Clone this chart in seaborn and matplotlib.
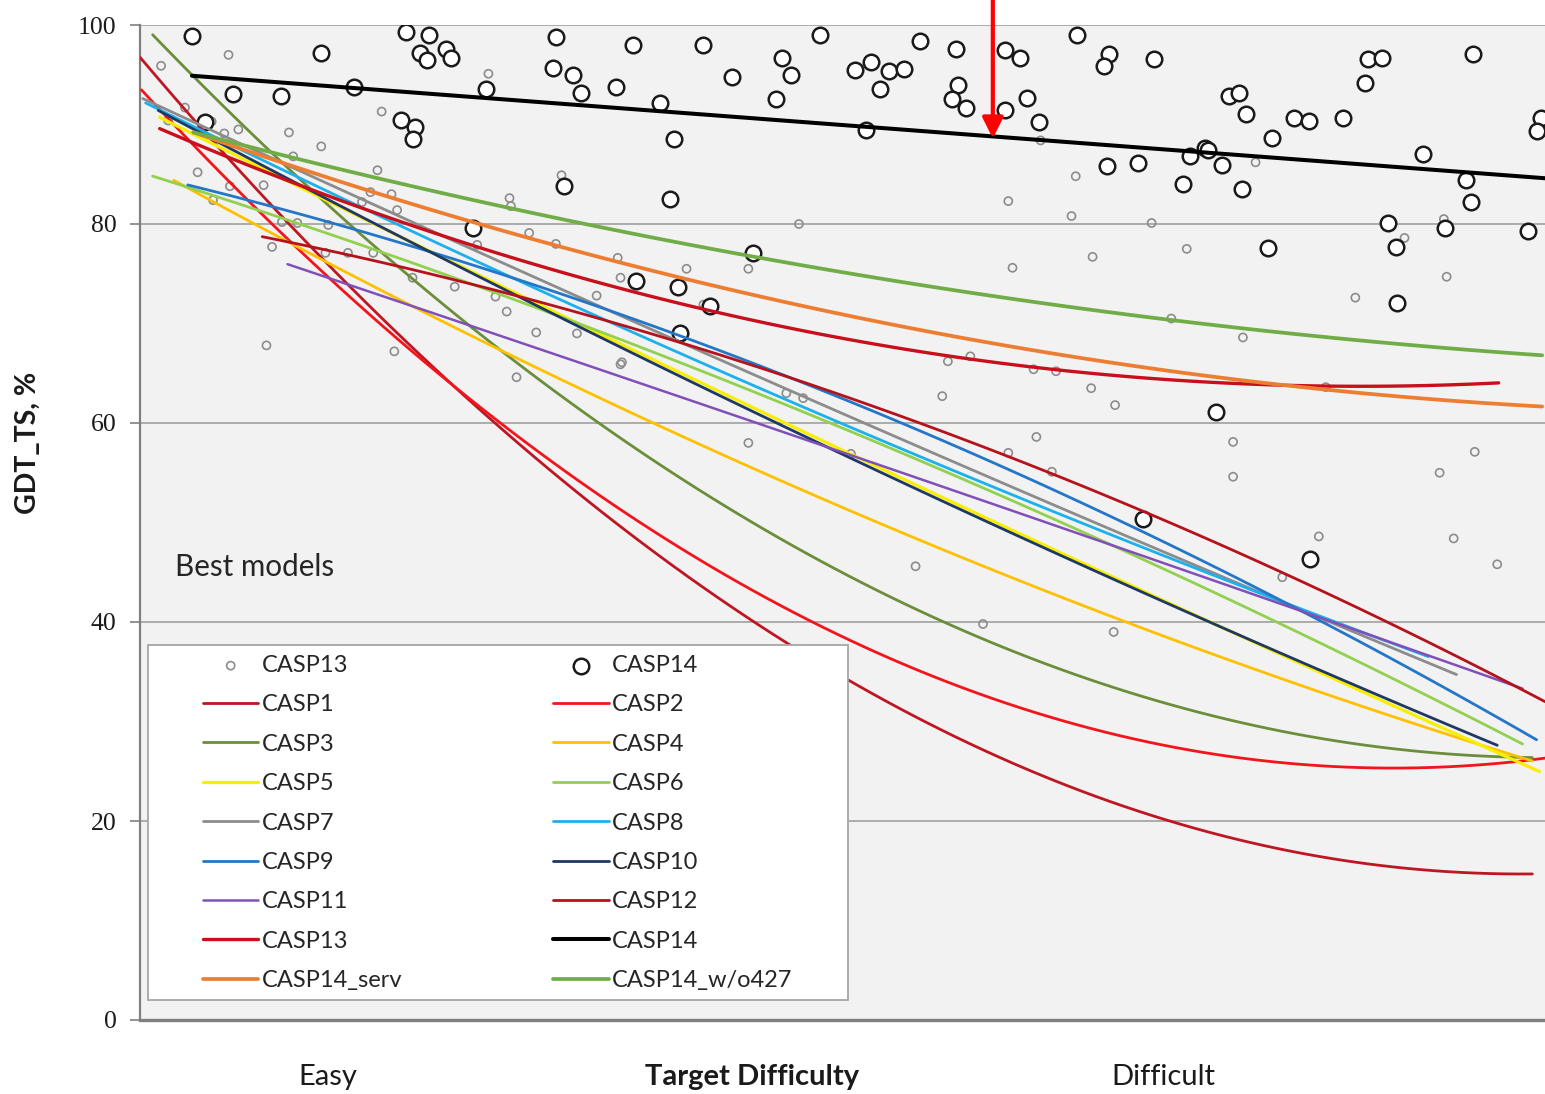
import matplotlib
matplotlib.use('Agg')
import matplotlib.pyplot as plt
import seaborn as sns
from matplotlib.patches import Rectangle

# x = target difficulty rank (0 = easiest, 100 = hardest), y = GDT_TS %
X_LABELS = ['Easy', 'Target Difficulty', 'Difficult']
Y_TICKS = [0, 20, 40, 60, 80, 100]

# best models, CASP14 (big open circles)
casp14_pts_x = [3.7, 6.6, 4.6, 10.0, 12.9, 15.2, 18.9, 20.6, 19.9, 20.4, 21.8, 22.1, 18.6, 19.6,
                19.4, 24.6, 23.7, 29.6, 29.4, 30.2, 30.8, 31.4, 33.9, 35.1, 37.0, 38.0, 37.7, 35.3,
                38.3, 38.4, 40.1, 40.6, 42.1, 43.6, 45.7, 46.3, 45.3, 48.4, 50.9, 52.0, 51.7, 52.7,
                53.3, 54.4, 55.5, 58.1, 58.2, 57.8, 58.8, 61.6, 62.6, 61.6, 63.1, 64.0, 66.7, 69.0,
                68.6, 72.2, 68.8, 71.0, 74.2, 74.7, 75.8, 76.0, 77.0, 78.4, 77.5, 78.2, 78.7, 80.6,
                82.1, 83.2, 85.6, 87.4, 88.4, 87.2, 91.3, 94.4, 94.7, 94.9, 88.8, 92.9, 89.4, 80.3,
                98.8, 99.7, 99.4, 89.5, 76.6, 71.4, 83.3]
casp14_pts_y = [98.9, 93.1, 90.3, 92.9, 97.2, 93.8, 99.3, 99.0, 97.2, 96.5, 97.6, 96.7, 90.5, 89.7,
                88.5, 93.6, 79.6, 98.8, 95.7, 83.8, 95.0, 93.2, 93.8, 98.0, 92.2, 88.5, 82.5, 74.3,
                73.7, 69.0, 98.0, 71.8, 94.8, 77.1, 96.7, 95.0, 92.6, 99.0, 95.5, 96.3, 89.4, 93.6,
                95.4, 95.6, 98.4, 97.6, 94.0, 92.6, 91.7, 97.5, 96.7, 91.5, 92.7, 90.3, 99.0, 97.1,
                95.9, 96.6, 85.8, 86.1, 84.0, 86.8, 87.6, 87.4, 85.9, 83.5, 92.9, 93.2, 91.1, 88.6,
                90.7, 90.4, 90.7, 96.6, 96.7, 94.2, 87.0, 84.4, 82.2, 97.1, 80.1, 79.6, 77.7, 77.6,
                79.3, 90.7, 89.3, 72.1, 61.1, 50.4, 46.3]

# best models, CASP13 (small grey circles)
casp13_pts_x = [1.5, 6.3, 2.0, 3.2, 5.1, 6.0, 7.0, 4.1, 6.4, 5.2, 8.8, 10.6, 10.9, 12.9, 17.2, 16.9,
                16.4, 15.8, 17.9, 18.3, 24.8, 26.3, 26.4, 28.2, 26.8, 9.0, 18.1, 26.1, 25.3, 22.4,
                19.4, 16.6, 14.8, 13.2, 11.2, 10.1, 9.4, 13.4, 27.7, 24.0, 30.0, 29.6, 31.1, 34.0,
                34.2, 38.9, 43.3, 32.5, 34.3, 34.2, 43.3, 46.9, 40.1, 46.0, 61.8, 66.3, 72.0, 74.5,
                62.1, 67.8, 73.4, 57.5, 59.1, 63.6, 65.2, 67.7, 69.4, 57.1, 47.2, 50.6, 61.8, 63.8,
                64.9, 55.2, 60.0, 69.3, 64.1, 79.4, 66.6, 92.8, 90.0, 93.0, 86.5, 78.5, 84.4, 77.8,
                77.8, 95.0, 92.5, 83.9, 93.5, 96.6, 81.3]
casp13_pts_y = [95.9, 97.0, 90.4, 91.7, 90.3, 89.1, 89.5, 85.2, 83.8, 82.4, 83.9, 89.2, 86.8, 87.8,
                91.3, 85.4, 83.2, 82.2, 83.0, 81.4, 95.1, 82.6, 81.8, 69.1, 64.6, 67.8, 67.2, 71.2,
                72.7, 73.7, 74.6, 77.1, 77.1, 77.1, 80.1, 80.2, 77.7, 79.9, 79.1, 77.9, 84.9, 78.0,
                69.0, 76.6, 74.6, 75.5, 75.5, 72.8, 66.1, 65.9, 58.0, 80.0, 71.9, 63.0, 82.3, 80.8,
                80.1, 77.5, 75.6, 76.7, 70.5, 66.2, 66.7, 65.4, 65.2, 63.5, 61.8, 62.7, 62.5, 56.9,
                57.0, 58.6, 55.1, 45.6, 39.8, 39.0, 88.4, 86.2, 84.8, 80.5, 78.6, 74.7, 72.6, 68.6,
                63.6, 58.1, 54.6, 57.1, 55.0, 48.6, 48.4, 45.8, 44.5]

# trend curves
casp1_x = [0.0, 10.5, 21.4, 27.5, 36.3, 46.0, 50.4, 61.2, 68.3, 75.4, 87.3, 99.1]
casp1_y = [96.5, 80.6, 64.5, 57.3, 48.0, 37.7, 33.9, 26.8, 22.1, 18.8, 15.8, 14.8]
casp2_x = [0.1, 8.8, 21.4, 27.1, 36.3, 45.6, 61.2, 68.3, 75.4, 87.3, 100.0]
casp2_y = [93.3, 81.0, 65.1, 58.3, 49.2, 41.4, 32.7, 28.8, 26.8, 25.3, 26.4]
casp3_x = [0.9, 17.1, 27.1, 31.3, 46.5, 56.9, 68.3, 75.4, 87.3, 99.1]
casp3_y = [98.3, 78.2, 66.3, 61.3, 47.2, 39.9, 33.7, 30.9, 27.6, 26.6]
casp4_x = [2.4, 7.1, 17.1, 31.3, 47.0, 59.8, 75.4, 87.3, 99.1]
casp4_y = [84.3, 80.7, 73.4, 64.0, 53.0, 45.9, 37.2, 30.9, 26.4]
casp5_x = [1.4, 18.5, 45.6, 75.4, 82.6, 99.6]
casp5_y = [90.6, 79.1, 59.8, 40.5, 36.2, 24.8]
casp6_x = [0.9, 11.4, 18.5, 45.6, 68.3, 75.4, 82.6, 98.4]
casp6_y = [84.6, 80.4, 76.7, 61.0, 48.7, 44.2, 38.9, 27.4]
casp7_x = [0.2, 17.1, 28.5, 45.6, 68.3, 75.4, 82.6, 93.7]
casp7_y = [93.5, 81.3, 73.1, 63.0, 51.1, 46.7, 41.7, 33.2]
casp8_x = [0.4, 11.9, 28.5, 45.6, 68.3, 82.6, 91.7]
casp8_y = [92.3, 83.7, 74.1, 62.3, 49.1, 41.2, 36.7]
casp9_x = [3.4, 18.5, 28.5, 45.6, 68.3, 82.6, 99.4]
casp9_y = [83.7, 78.4, 73.9, 64.6, 51.3, 40.9, 28.3]
casp10_x = [1.3, 15.0, 28.5, 45.6, 68.3, 75.4, 82.6, 96.6]
casp10_y = [91.3, 81.4, 71.7, 59.8, 44.7, 40.4, 36.2, 27.6]
casp11_x = [10.5, 17.1, 32.0, 47.0, 68.3, 82.6, 98.4]
casp11_y = [76.1, 72.7, 65.5, 58.8, 48.2, 40.9, 33.4]
casp12_x = [8.7, 17.1, 28.5, 45.6, 61.2, 75.4, 89.0, 100.0]
casp12_y = [78.8, 76.2, 71.9, 65.1, 56.7, 48.9, 39.9, 31.9]
casp13_x = [1.4, 17.1, 28.5, 38.4, 47.0, 61.2, 74.0, 84.2, 96.7]
casp13_y = [89.6, 80.7, 75.9, 72.4, 69.2, 66.0, 64.1, 63.6, 64.2]
casp14_x = [3.7, 60.7, 100.0]
casp14_y = [94.9, 88.8, 84.6]
casp14_serv_x = [3.8, 17.1, 28.5, 45.6, 61.2, 75.4, 99.8]
casp14_serv_y = [89.1, 83.1, 78.4, 72.2, 67.8, 64.8, 61.7]
casp14_wo427_x = [3.8, 17.1, 28.5, 45.6, 61.2, 75.4, 99.8]
casp14_wo427_y = [89.1, 84.6, 81.1, 76.2, 72.7, 69.8, 66.9]

ARROW_X, ARROW_Y = 60.7, 88.6

curves = {
    'CASP1': (casp1_x, casp1_y), 'CASP2': (casp2_x, casp2_y),
    'CASP3': (casp3_x, casp3_y), 'CASP4': (casp4_x, casp4_y),
    'CASP5': (casp5_x, casp5_y), 'CASP6': (casp6_x, casp6_y),
    'CASP7': (casp7_x, casp7_y), 'CASP8': (casp8_x, casp8_y),
    'CASP9': (casp9_x, casp9_y), 'CASP10': (casp10_x, casp10_y),
    'CASP11': (casp11_x, casp11_y), 'CASP12': (casp12_x, casp12_y),
    'CASP13': (casp13_x, casp13_y), 'CASP14': (casp14_x, casp14_y),
    'CASP14_serv': (casp14_serv_x, casp14_serv_y),
    'CASP14_w/o427': (casp14_wo427_x, casp14_wo427_y),
}

# colour, line width, fit order
styles = {
    'CASP1': ('#BE1622', 2.0, 2), 'CASP2': ('#F4141C', 2.0, 2),
    'CASP3': ('#6B8E3A', 2.0, 2), 'CASP4': ('#FFC000', 2.0, 2),
    'CASP5': ('#F7EE00', 2.3, 2), 'CASP6': ('#92D050', 2.0, 2),
    'CASP7': ('#8C8C8C', 2.0, 2), 'CASP8': ('#1CB0EC', 2.0, 2),
    'CASP9': ('#2376C8', 2.0, 2), 'CASP10': ('#1F3864', 2.0, 2),
    'CASP11': ('#8050B8', 1.8, 2), 'CASP12': ('#B5121B', 2.0, 2),
    'CASP13': ('#C8101C', 2.4, 2), 'CASP14': ('#000000', 2.9, 1),
    'CASP14_serv': ('#ED7D31', 2.7, 2), 'CASP14_w/o427': ('#70AD47', 2.7, 2),
}

sns.set_theme(style='white', rc={'axes.facecolor': '#F2F2F2'})
plt.rcParams['font.family'] = ['Lato', 'DejaVu Sans']

fig = plt.figure(figsize=(15.45, 10.94), dpi=100)
ax = fig.add_axes([140 / 1545, 74 / 1094, 1405 / 1545, 995 / 1094])

sns.scatterplot(x=casp13_pts_x, y=casp13_pts_y, s=34, color='#8C8C8C', facecolor='none',
                edgecolor='#8C8C8C', linewidth=1.2, ax=ax, zorder=2)
h_pts13 = ax.collections[-1]
sns.scatterplot(x=casp14_pts_x, y=casp14_pts_y, s=125, color='#1A1A1A', facecolor='white',
                edgecolor='#1A1A1A', linewidth=1.8, ax=ax, zorder=2)
h_pts14 = ax.collections[-1]

handles = {}
for name, (xs, ys) in curves.items():
    col, lw, order = styles[name]
    sns.regplot(x=xs, y=ys, order=order, ci=None, scatter=False, truncate=True, ax=ax,
                color=col, line_kws={'lw': lw, 'zorder': 3})
    handles[name] = ax.lines[-1]

ax.set_xlim(0, 100)
ax.set_ylim(0, 100)
ax.set_xticks([])
ax.set_yticks(Y_TICKS)
ax.set_xlabel('')
ax.set_ylabel('')
ax.set_axisbelow(True)
ax.yaxis.grid(True, color='#A6A6A6', lw=1.3)
ax.xaxis.grid(False)
for side in ['top', 'right']:
    ax.spines[side].set_visible(False)
ax.spines['left'].set_color('#808080')
ax.spines['left'].set_linewidth(1.6)
ax.spines['bottom'].set_color('#808080')
ax.spines['bottom'].set_linewidth(2.4)
ax.tick_params(axis='y', left=True, length=7, width=1.2, color='#808080', pad=10,
               labelsize=18.5, labelcolor='#1A1A1A')
for lbl in ax.get_yticklabels():
    lbl.set_fontfamily(['Liberation Serif', 'DejaVu Serif'])

ax.text(-0.0797, 0.58, 'GDT_TS, %', rotation=90, ha='center', va='center',
        fontsize=20.5, fontweight='bold', color='#1A1A1A', transform=ax.transAxes)
for lbl, xpos in zip(X_LABELS, [0.1338, 0.4356, 0.7281]):
    ax.text(xpos, -0.0573, lbl, ha='center', va='center', fontsize=21, color='#1A1A1A',
            fontweight='bold' if lbl == 'Target Difficulty' else 'normal',
            transform=ax.transAxes)
ax.text(0.0249, 0.455, 'Best models', ha='left', va='center', fontsize=21.3,
        color='#262626', transform=ax.transAxes)

# legend box and two legend columns
ax.add_patch(Rectangle((0.0057, 0.0201), 0.4983, 0.3568, transform=ax.transAxes,
                       facecolor='white', edgecolor='#A6A6A6', lw=1.3, zorder=5))
left_col = ['CASP1', 'CASP3', 'CASP5', 'CASP7', 'CASP9', 'CASP11', 'CASP13', 'CASP14_serv']
right_col = ['CASP2', 'CASP4', 'CASP6', 'CASP8', 'CASP10', 'CASP12', 'CASP14', 'CASP14_w/o427']
leg_kw = dict(loc='upper left', bbox_transform=ax.transAxes, frameon=False, fontsize=17,
              handlelength=2.35, handletextpad=0.15, labelspacing=0.78, borderpad=0,
              borderaxespad=0)
leg1 = ax.legend([h_pts13] + [handles[n] for n in left_col], ['CASP13'] + left_col,
                 bbox_to_anchor=(0.0448, 0.367), **leg_kw)
leg1.set_zorder(6)
ax.add_artist(leg1)
leg2 = ax.legend([h_pts14] + [handles[n] for n in right_col], ['CASP14'] + right_col,
                 bbox_to_anchor=(0.294, 0.367), **leg_kw)
leg2.set_zorder(6)

ax.annotate('', xy=(ARROW_X, ARROW_Y), xycoords='data', xytext=(ARROW_X, 1.026),
            textcoords=('data', 'axes fraction'), annotation_clip=False, zorder=8,
            arrowprops=dict(arrowstyle='-|>,head_width=0.25,head_length=0.5', color='#FF0000',
                            lw=3, shrinkA=0, shrinkB=0, mutation_scale=25))

fig.savefig('out.png', dpi=100)
plt.close(fig)
